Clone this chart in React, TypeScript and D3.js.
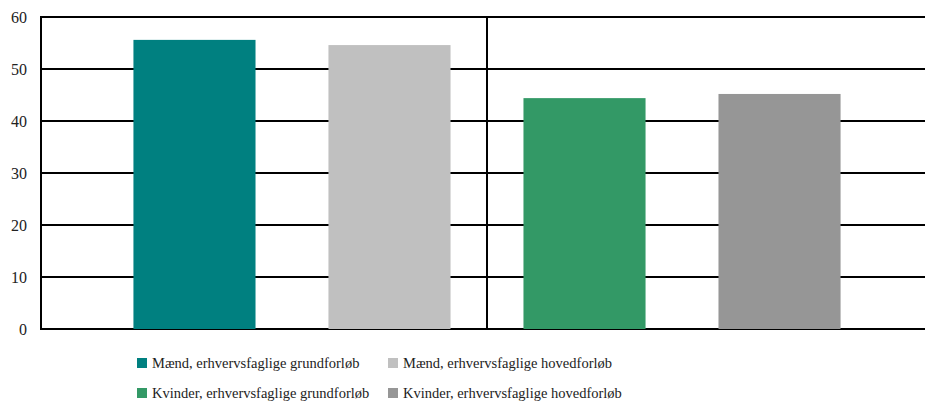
import * as d3 from "d3";
import { useEffect, useRef } from "react";

const groups = ["Mænd", "Kvinder"];
const seriesKeys = ["Mænd grund", "Mænd hoved", "Kvinder grund", "Kvinder hoved"];
const seriesLabels = [
  "Mænd, erhvervsfaglige grundforløb",
  "Mænd, erhvervsfaglige hovedforløb",
  "Kvinder, erhvervsfaglige grundforløb",
  "Kvinder, erhvervsfaglige hovedforløb",
];
const values = [55.6, 54.6, 44.4, 45.2];
const yTicks = [0, 10, 20, 30, 40, 50, 60];
const colors = ["#008080", "#c0c0c0", "#339966", "#969696"];

export default function App() {
  const svgRef = useRef<SVGSVGElement>(null);

  const W = 925;
  const H = 405;
  const margin = { top: 17, left: 41, bottom: 76 };
  const plotBottom = H - margin.bottom;
  const font = '"Liberation Serif", "DejaVu Serif", serif';

  useEffect(() => {
    const svg = d3.select(svgRef.current);
    svg.selectAll("*").remove();

    const x = d3.scaleBand<string>()
      .domain(seriesKeys)
      .range([margin.left, 933])
      .paddingInner(0.374)
      .paddingOuter(0.474);

    const y = d3.scaleLinear().domain([0, 60]).range([plotBottom, margin.top]);

    // horizontal gridlines
    svg.append("g")
      .selectAll("line")
      .data(yTicks)
      .join("line")
      .attr("x1", margin.left)
      .attr("x2", W)
      .attr("y1", d => y(d))
      .attr("y2", d => y(d))
      .attr("stroke", "#000")
      .attr("stroke-width", 2);

    // divider between the two groups
    const mid = (x(seriesKeys[1])! + x.bandwidth() + x(seriesKeys[2])!) / 2;
    svg.append("line")
      .attr("x1", mid)
      .attr("x2", mid)
      .attr("y1", y(60))
      .attr("y2", y(0))
      .attr("stroke", "#000")
      .attr("stroke-width", 2);

    svg.append("g")
      .selectAll("rect")
      .data(values)
      .join("rect")
      .attr("x", (d, i) => x(seriesKeys[i])!)
      .attr("y", d => y(d))
      .attr("width", x.bandwidth())
      .attr("height", d => y(0) - y(d))
      .attr("fill", (d, i) => colors[i]);

    // left axis line
    svg.append("line")
      .attr("x1", margin.left)
      .attr("x2", margin.left)
      .attr("y1", y(60) - 1)
      .attr("y2", y(0) + 1)
      .attr("stroke", "#000")
      .attr("stroke-width", 2);

    svg.append("g")
      .selectAll("text")
      .data(yTicks)
      .join("text")
      .attr("x", 27)
      .attr("y", d => y(d))
      .attr("dy", "0.35em")
      .attr("text-anchor", "end")
      .style("font-family", font)
      .style("font-size", "16px")
      .attr("fill", "#222")
      .text(d => d);

    // legend, two columns x two rows
    const legendX = [137, 388];
    const legendY = [358, 388];
    const legend = svg.append("g");
    seriesLabels.forEach((label, i) => {
      const lx = legendX[i % 2];
      const ly = legendY[Math.floor(i / 2)];
      legend.append("rect")
        .attr("x", lx)
        .attr("y", ly)
        .attr("width", 10)
        .attr("height", 10)
        .attr("fill", colors[i]);
      legend.append("text")
        .attr("x", lx + 15)
        .attr("y", ly + 10)
        .style("font-family", font)
        .style("font-size", "14.5px")
        .attr("fill", "#222")
        .text(label);
    });
  }, []);

  return (
    <svg
      ref={svgRef}
      width={W}
      height={H}
      style={{ position: "absolute", left: 0, top: 0, background: "#fff" }}
      data-groups={groups.join(",")}
    ></svg>
  );
}
